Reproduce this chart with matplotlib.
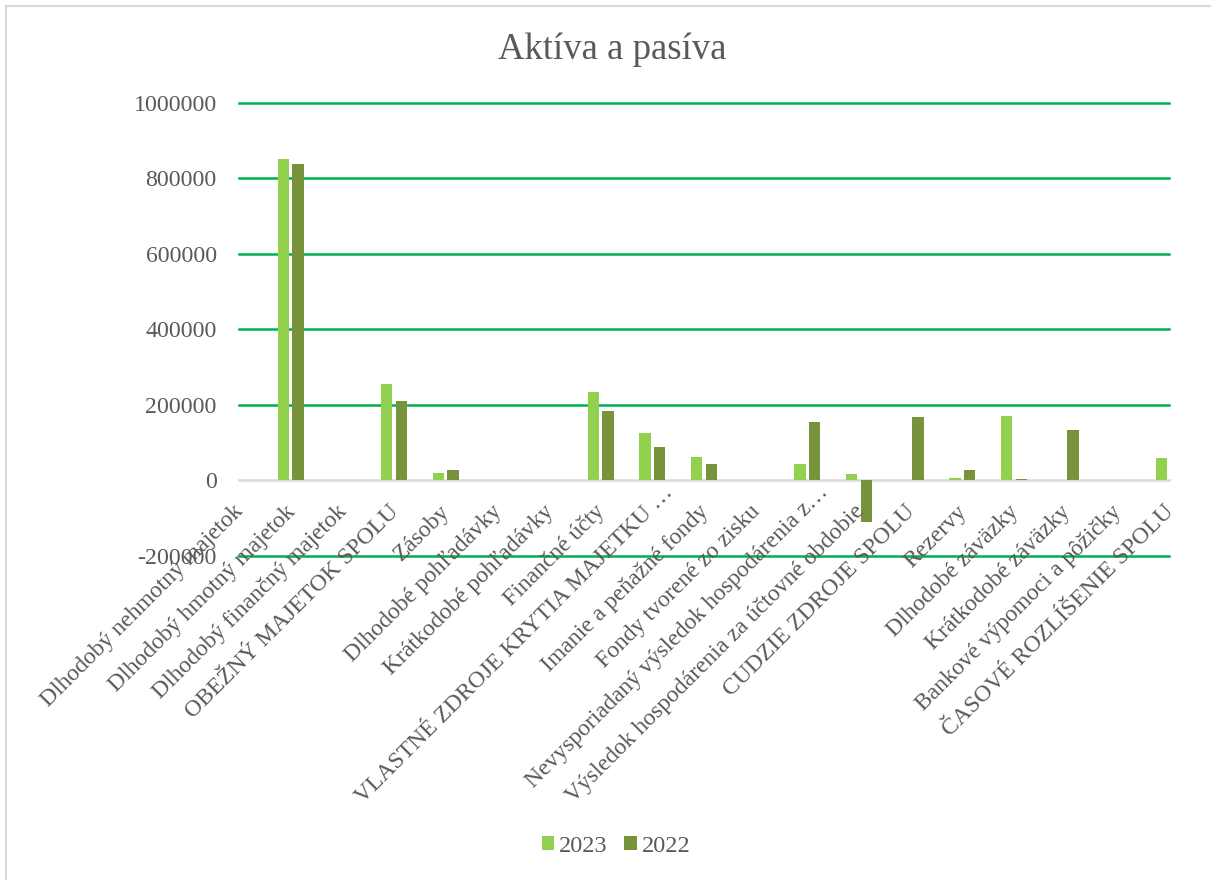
import matplotlib
matplotlib.use("Agg")
import matplotlib.pyplot as plt
import matplotlib.transforms as mtransforms
from matplotlib.lines import Line2D
from matplotlib.patches import Patch
import numpy as np

categories = [
    "Dlhodobý nehmotný majetok",
    "Dlhodobý hmotný majetok",
    "Dlhodobý finančný majetok",
    "OBEŽNÝ MAJETOK SPOLU",
    "Zásoby",
    "Dlhodobé pohľadávky",
    "Krátkodobé pohľadávky",
    "Finančné účty",
    "VLASTNÉ ZDROJE KRYTIA MAJETKU …",
    "Imanie a peňažné fondy",
    "Fondy tvorené zo zisku",
    "Nevysporiadaný výsledok hospodárenia z…",
    "Výsledok hospodárenia za účtovné obdobie",
    "CUDZIE ZDROJE SPOLU",
    "Rezervy",
    "Dlhodobé záväzky",
    "Krátkodobé záväzky",
    "Bankové výpomoci a pôžičky",
    "ČASOVÉ ROZLÍŠENIE SPOLU",
]
values_2023 = [0, 851000, 0, 254000, 19000, 0, 0, 234000, 125000, 61000, 0,
               42000, 15000, 0, 6000, 171000, 0, 0, 58000]
values_2022 = [0, 838000, 0, 209000, 27000, 0, 0, 183000, 88000, 42000, 0,
               153000, -112000, 166000, 26500, 2500, 132000, 0, 25000]
series_names = ["2023", "2022"]
yticks = [-200000, 0, 200000, 400000, 600000, 800000, 1000000]

c2023 = "#92D050"
c2022 = "#77933C"
grid_c = "#00B050"
text_c = "#595959"
serif = ["Liberation Serif", "DejaVu Serif"]

W, H = 1211, 880
fig = plt.figure(figsize=(W / 100, H / 100), dpi=100)

# chart border (top and left visible)
fig.add_artist(Line2D([6 / W, 1.0], [1 - 6 / H, 1 - 6 / H], color="#D9D9D9", lw=1.5,
                      transform=fig.transFigure))
fig.add_artist(Line2D([6 / W, 6 / W], [0, 1 - 6 / H], color="#D9D9D9", lw=1.5,
                      transform=fig.transFigure))

left, right = 239 / W, 1169 / W
top, bottom = 1 - 102.7 / H, 1 - 555.5 / H
ax = fig.add_axes([left, bottom, right - left, top - bottom])

x = np.arange(len(categories))
bw = 0.22
off = 0.143
ax.bar(x - off, values_2023, width=bw, color=c2023, edgecolor="none", zorder=3)
ax.bar(x + off, values_2022, width=bw, color=c2022, edgecolor="none", zorder=3)

ax.set_xlim(0, len(categories) - 1)
ax.set_ylim(-200000, 1000000)
ax.set_yticks(yticks)
ax.set_yticklabels([str(v) for v in yticks], fontfamily=serif, fontsize=17.2, color=text_c)
for v in yticks:
    if v == 0:
        continue
    ax.axhline(v, color=grid_c, lw=1.8, zorder=1, clip_on=False)
ax.axhline(0, color="#D9D9D9", lw=1.8, zorder=2, clip_on=False)

for s in ax.spines.values():
    s.set_visible(False)
ax.tick_params(axis="y", length=0, pad=16)
ax.set_xticks([])

# category labels hang just below the zero line (axis crossing at 0)
for xi, lab in zip(x, categories):
    dx, dy = -6, -21
    if lab.endswith("…"):
        dx, dy = dx + 16, dy + 19
    offset = mtransforms.ScaledTranslation(dx / 100, dy / 100, fig.dpi_scale_trans)
    ax.text(xi, 0, lab, rotation=45, ha="right", va="top", rotation_mode="anchor",
            fontfamily=serif, fontsize=17, color=text_c,
            transform=ax.transData + offset, clip_on=False)

fig.text(612 / W, 1 - 50 / H, "Aktíva a pasíva", ha="center", va="center",
         fontfamily=serif, fontsize=26.5, color=text_c)

handles = [Patch(facecolor=c2023, edgecolor="none"), Patch(facecolor=c2022, edgecolor="none")]
leg = fig.legend(handles, series_names, loc="center", bbox_to_anchor=(616 / W, 1 - 846 / H),
                 ncol=2, frameon=False, prop={"family": serif, "size": 17.5},
                 handlelength=0.5, handleheight=0.5, handletextpad=0.2, columnspacing=0.7)
for t in leg.get_texts():
    t.set_color(text_c)

fig.savefig("out.png", dpi=100)
